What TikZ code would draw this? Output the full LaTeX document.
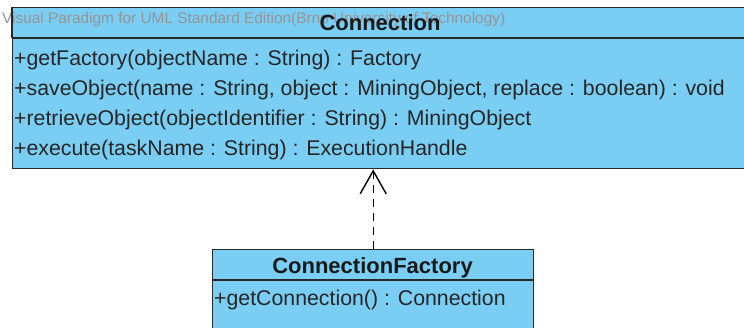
\documentclass[tikz,border=0pt]{standalone}
\usepackage{fontspec}
\setmainfont{Liberation Sans}
\usetikzlibrary{arrows.meta}
\definecolor{umlfill}{RGB}{122,206,244}
\definecolor{umlline}{RGB}{40,40,40}
\tikzset{
  classbox/.style={draw=umlline, line width=1.4pt, fill=umlfill, inner sep=0pt, anchor=north west},
  sep/.style={draw=umlline, line width=1.4pt},
  op/.style={anchor=base west, inner sep=0pt, font=\fontsize{21.3}{24}\selectfont, text=black!85},
  title/.style={anchor=base, inner sep=0pt, font=\fontsize{22}{24}\selectfont\bfseries, text=black!90},
  wm/.style={anchor=base west, inner sep=0pt, font=\fontsize{15.4}{17}\selectfont, text=black!42},
  realize/.style={draw=black, line width=1.4pt, dash pattern=on 8pt off 6pt, -{Straight Barb[length=23pt,width=26pt,line width=1.4pt]}}
}
\begin{document}
\begin{tikzpicture}[x=1pt,y=-1pt]
\useasboundingbox (0,0) rectangle (744,327);
\node[classbox, minimum width=740pt, minimum height=161pt] (conn) at (12,7) {};
\draw[sep] (12,38) -- (752,38);
\node[classbox, minimum width=321pt, minimum height=100pt] (fac) at (212,249) {};
\draw[sep] (212,280) -- (533,280);
\node[wm] (wmark) at (2,23) {Visual Paradigm for UML Standard Edition(Brno University of Technology)};
\draw[sep] (12,7) -- (12,38);
\node[title] (ctitle) at (380,30) {Connection};
\node[op] (m1) at (14,65) {+getFactory(objectName : String) : Factory};
\node[op] (m2) at (14,95) {+saveObject(name : String, object : MiningObject, replace : boolean) : void};
\node[op] (m3) at (14,125) {+retrieveObject(objectIdentifier : String) : MiningObject};
\node[op] (m4) at (14,155) {+execute(taskName : String) : ExecutionHandle};
\node[title] (ftitle) at (372.5,273) {ConnectionFactory};
\node[op] (f1) at (214,305) {+getConnection() : Connection};
\draw[realize] (fac.north) -- (fac.north |- conn.south);
\end{tikzpicture}
\end{document}
